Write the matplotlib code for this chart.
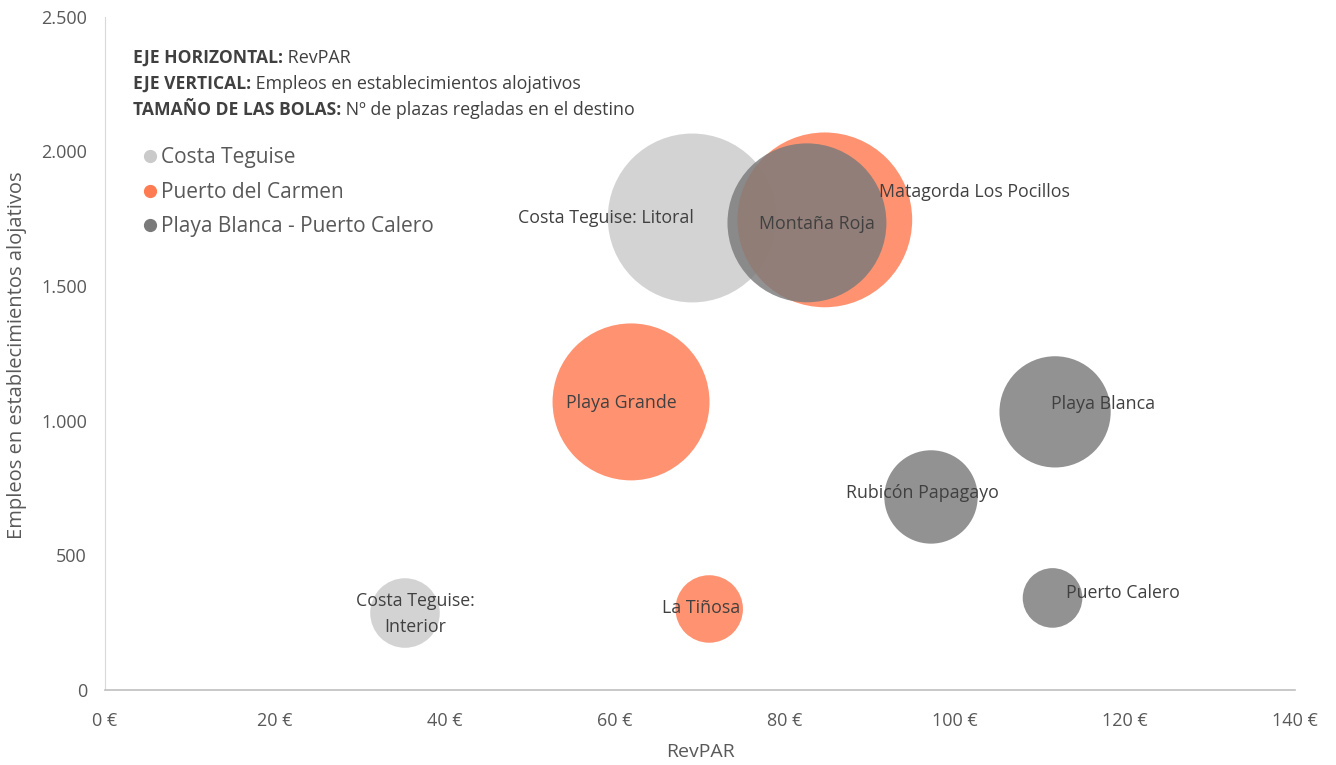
import matplotlib
matplotlib.use("Agg")
import matplotlib.pyplot as plt
from matplotlib.lines import Line2D
from matplotlib.ticker import FuncFormatter

plt.rcParams['font.family'] = ['Open Sans', 'DejaVu Sans']

# series: Costa Teguise, Puerto del Carmen, Playa Blanca - Puerto Calero
ct_names = ["Costa Teguise: Litoral", "Costa Teguise:\nInterior"]
ct_revpar = [69.1, 35.3]
ct_empleos = [1753, 286]
ct_plazas = [22400, 3800]

pc_names = ["Playa Grande", "Matagorda Los Pocillos", "La Tiñosa"]
pc_revpar = [61.9, 84.7, 71.1]
pc_empleos = [1070, 1746, 301]
pc_plazas = [19350, 24000, 3580]

pb_names = ["Montaña Roja", "Playa Blanca", "Rubicón Papagayo", "Puerto Calero"]
pb_revpar = [82.6, 111.8, 97.2, 111.5]
pb_empleos = [1735, 1033, 717, 342]
pb_plazas = [19840, 9720, 6850, 2790]

series = ["Costa Teguise", "Puerto del Carmen", "Playa Blanca - Puerto Calero"]
colors = ["#cbcacb", "#ff7b52", "#7a7a7a"]

# label offsets in pixels relative to bubble centre
ct_off = [(-86, 0), (10, -1)]
pc_off = [(-10, -1), (150, 28), (-8, 1)]
pb_off = [(10, -1), (48, 8), (-9, 4), (70, 5)]

fig = plt.figure(figsize=(13.36, 7.65), dpi=100)
ax = fig.add_axes([0.0786, 0.098, 0.8905, 0.880])

size_k = 0.66
data = [(ct_names, ct_revpar, ct_empleos, ct_plazas, ct_off),
        (pc_names, pc_revpar, pc_empleos, pc_plazas, pc_off),
        (pb_names, pb_revpar, pb_empleos, pb_plazas, pb_off)]
for (names, xs, ys, ps, offs), c in zip(data, colors):
    ax.scatter(xs, ys, s=[p * size_k for p in ps], color=c, alpha=0.82,
               linewidths=0)
    for n, x, y, o in zip(names, xs, ys, offs):
        ax.annotate(n, (x, y), xytext=o, textcoords='offset pixels',
                    ha='center', va='center', fontsize=12.8, color="#404040",
                    linespacing=1.55)

ax.set_xlim(0, 140)
ax.set_ylim(0, 2500)
ax.set_xticks(range(0, 141, 20))
ax.set_yticks(range(0, 2501, 500))
ax.xaxis.set_major_formatter(FuncFormatter(lambda v, p: f"{int(v)} €"))
ax.yaxis.set_major_formatter(FuncFormatter(lambda v, p: f"{int(v):,}".replace(",", ".")))
ax.tick_params(length=0, labelsize=13, labelcolor="#595959")
ax.tick_params(axis='x', pad=16)
ax.tick_params(axis='y', pad=13)
for s in ["top", "right"]:
    ax.spines[s].set_visible(False)
ax.spines["left"].set_color("#d9d9d9")
ax.spines["bottom"].set_color("#bfbfbf")
ax.spines["bottom"].set_linewidth(1.2)

fig.text(700 / 1336, 1 - 752 / 765, "RevPAR", fontsize=14, color="#595959",
         ha='center', va='center')
fig.text(17 / 1336, 1 - 355 / 765, "Empleos en establecimientos alojativos",
         fontsize=14.5, color="#595959", ha='center', va='center', rotation=90)

notes = [("EJE HORIZONTAL:", " RevPAR"),
         ("EJE VERTICAL:", " Empleos en establecimientos alojativos"),
         ("TAMAÑO DE LAS BOLAS:", " Nº de plazas regladas en el destino")]
for i, (b, t) in enumerate(notes):
    y = 765 - 58 - i * 26
    tb = fig.text(133 / 1336, y / 765, b, fontsize=12.6, fontweight='bold',
                  color="#404040", va='center')
    fig.canvas.draw()
    bb = tb.get_window_extent()
    fig.text(bb.x1 / 1336, y / 765, t, fontsize=12.9, color="#404040", va='center')

handles = [Line2D([], [], marker='o', linestyle='', color=c, markersize=8.5)
           for c in colors]
leg = fig.legend(handles, series, loc='upper left',
                 bbox_to_anchor=(131 / 1336, 1 - 139 / 765), frameon=False,
                 fontsize=15, handletextpad=0.05, labelspacing=0.65,
                 handlelength=1.0, labelcolor="#595959", borderaxespad=0)

fig.savefig("out.png", dpi=100)
